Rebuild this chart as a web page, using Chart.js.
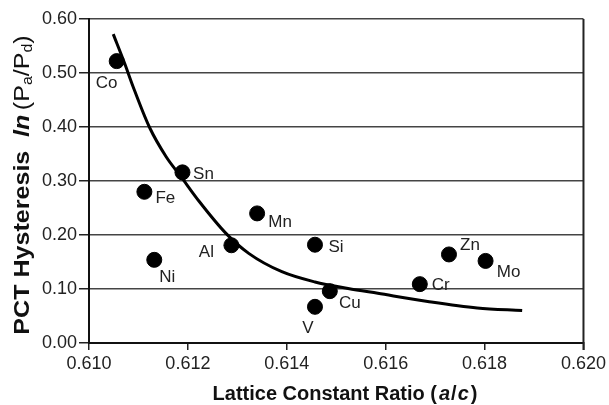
<!DOCTYPE html>
<html>
<head>
<meta charset="utf-8">
<script src="https://cdn.jsdelivr.net/npm/chart.js@4.4.0/dist/chart.umd.min.js"></script>
<style>
  html, body { margin: 0; padding: 0; background: #fff; }
  #wrap { width: 609px; height: 405px; position: relative; }
</style>
</head>
<body>
<div id="wrap"><canvas id="myChart"></canvas></div>
<script>
// element data
var elements   = ['Co', 'Sn', 'Fe', 'Mn', 'Al', 'Si', 'Ni', 'V', 'Cu', 'Cr', 'Zn', 'Mo'];
var ratio      = [0.61056, 0.61189, 0.61112, 0.61340, 0.61288, 0.61457, 0.61132, 0.61457, 0.61487, 0.61669, 0.61728, 0.61802];
var hysteresis = [0.522, 0.316, 0.280, 0.240, 0.181, 0.182, 0.154, 0.067, 0.096, 0.109, 0.164, 0.152];

// fitted trend curve, sampled from the figure
var fitRatio      = [0.61049, 0.61072, 0.61089, 0.61122, 0.61156, 0.61186, 0.61223, 0.61277, 0.61323, 0.61390, 0.61457, 0.61524, 0.61584, 0.61685, 0.61785, 0.61876];
var fitHysteresis = [0.572, 0.518, 0.475, 0.400, 0.345, 0.308, 0.262, 0.203, 0.166, 0.132, 0.113, 0.101, 0.092, 0.077, 0.065, 0.060];

var xTicks = [0.610, 0.612, 0.614, 0.616, 0.618, 0.620];
var yTicks = [0.00, 0.10, 0.20, 0.30, 0.40, 0.50, 0.60];

// where each element name sits relative to its dot
var labelOffset = {
    Co: [-10, 22], Sn: [21, 2], Fe: [21, 7], Mn: [23, 9], Al: [-25, 7], Si: [21, 3],
    Ni: [13, 17], V: [-7, 21], Cu: [20, 12], Cr: [21, 1], Zn: [21, -9], Mo: [23, 11]
};

var FONT = '"Liberation Sans", Arial, sans-serif';

function drawPieces(ctx, pieces, x, y) {
    pieces.forEach(function(p) {
        ctx.font = p.font;
        ctx.fillText(p.text, x, y + (p.dy || 0));
        x += ctx.measureText(p.text).width + (p.gap || 0);
    });
}

function piecesWidth(ctx, pieces) {
    var w = 0;
    pieces.forEach(function(p) {
        ctx.font = p.font;
        w += ctx.measureText(p.text).width + (p.gap || 0);
    });
    return w;
}

var decorations = {
    id: 'decorations',
    afterDatasetsDraw: function(chart) {
        var ctx = chart.ctx;
        var meta = chart.getDatasetMeta(1);
        ctx.save();
        ctx.fillStyle = '#222';
        ctx.font = '17px ' + FONT;
        ctx.textAlign = 'center';
        ctx.textBaseline = 'middle';
        meta.data.forEach(function(pt, i) {
            var off = labelOffset[elements[i]] || [18, 0];
            ctx.fillText(elements[i], pt.x + off[0], pt.y + off[1]);
        });
        ctx.restore();
    },
    afterDraw: function(chart) {
        var ctx = chart.ctx;
        var a = chart.chartArea;
        ctx.save();
        // right frame line
        ctx.strokeStyle = '#222';
        ctx.lineWidth = 2;
        ctx.beginPath();
        ctx.moveTo(a.right, a.top);
        ctx.lineTo(a.right, a.bottom + 7);
        ctx.stroke();

        ctx.fillStyle = '#111';
        ctx.textAlign = 'left';
        ctx.textBaseline = 'alphabetic';

        // x axis title
        var xt = [
            { text: 'Lattice Constant Ratio (', font: 'bold 20px ' + FONT, gap: 2 },
            { text: 'a', font: 'italic bold 20px ' + FONT, gap: 1 },
            { text: '/', font: 'bold 20px ' + FONT, gap: 1 },
            { text: 'c', font: 'italic bold 20px ' + FONT, gap: 2 },
            { text: ')', font: 'bold 20px ' + FONT }
        ];
        var w = piecesWidth(ctx, xt);
        drawPieces(ctx, xt, 345 - w / 2, 400);

        // y axis title (a bit stretched along its length, like the source figure)
        var yt = [
            { text: 'PCT Hysteresis', font: 'bold 22px ' + FONT, gap: 12 },
            { text: 'ln', font: 'italic bold 22px ' + FONT, gap: 4 },
            { text: '(P', font: '22px ' + FONT },
            { text: 'a', font: '14px ' + FONT, dy: 3 },
            { text: '/P', font: '22px ' + FONT },
            { text: 'd', font: '14px ' + FONT, dy: 3 },
            { text: ')', font: '22px ' + FONT }
        ];
        var h = piecesWidth(ctx, yt);
        ctx.translate(29, 185);
        ctx.rotate(-Math.PI / 2);
        ctx.scale(1.14, 1);
        drawPieces(ctx, yt, -h / 2, 0);
        ctx.restore();
    }
};

(function() {
    var ctx = document.getElementById('myChart').getContext('2d');

    var points = ratio.map(function(r, i) { return { x: r, y: hysteresis[i] }; });
    var curve = fitRatio.map(function(r, i) { return { x: r, y: fitHysteresis[i] }; });

    var myChart = new Chart(ctx, {
        type: 'scatter',
        data: {
            datasets: [{
                label: 'fit',
                type: 'line',
                data: curve,
                showLine: true,
                borderColor: '#000',
                borderWidth: 3,
                pointRadius: 0,
                fill: false,
                cubicInterpolationMode: 'monotone'
            }, {
                label: 'elements',
                data: points,
                backgroundColor: '#000',
                borderColor: '#000',
                pointRadius: 7.5,
                pointHoverRadius: 7.5
            }]
        },
        options: {
            responsive: true,
            maintainAspectRatio: false,
            animation: false,
            layout: { padding: { left: 0, top: 19, right: 22, bottom: 0 } },
            plugins: {
                legend: { display: false },
                tooltip: { enabled: false }
            },
            scales: {
                x: {
                    type: 'linear',
                    min: xTicks[0],
                    max: xTicks[xTicks.length - 1],
                    afterBuildTicks: function(scale) {
                        scale.ticks = xTicks.map(function(v) { return { value: v }; });
                    },
                    afterFit: function(scale) { scale.height = 62; },
                    ticks: {
                        color: '#222',
                        font: { family: FONT, size: 18 },
                        padding: 3,
                        maxRotation: 0,
                        callback: function(v) { return v.toFixed(3); }
                    },
                    grid: {
                        drawOnChartArea: false,
                        drawTicks: true,
                        tickLength: 7,
                        tickColor: '#222',
                        lineWidth: 1.5
                    },
                    border: { display: true, color: '#111', width: 2 }
                },
                y: {
                    min: yTicks[0],
                    max: yTicks[yTicks.length - 1],
                    afterBuildTicks: function(scale) {
                        scale.ticks = yTicks.map(function(v) { return { value: v }; });
                    },
                    afterFit: function(scale) { scale.width = 89; },
                    ticks: {
                        color: '#222',
                        font: { family: FONT, size: 18 },
                        padding: 2,
                        callback: function(v) { return v.toFixed(2); }
                    },
                    grid: {
                        color: '#444',
                        lineWidth: 1.5,
                        drawTicks: true,
                        tickLength: 10,
                        tickColor: '#222'
                    },
                    border: { display: true, color: '#111', width: 2 }
                }
            }
        },
        plugins: [decorations]
    });
})();
</script>
</body>
</html>
